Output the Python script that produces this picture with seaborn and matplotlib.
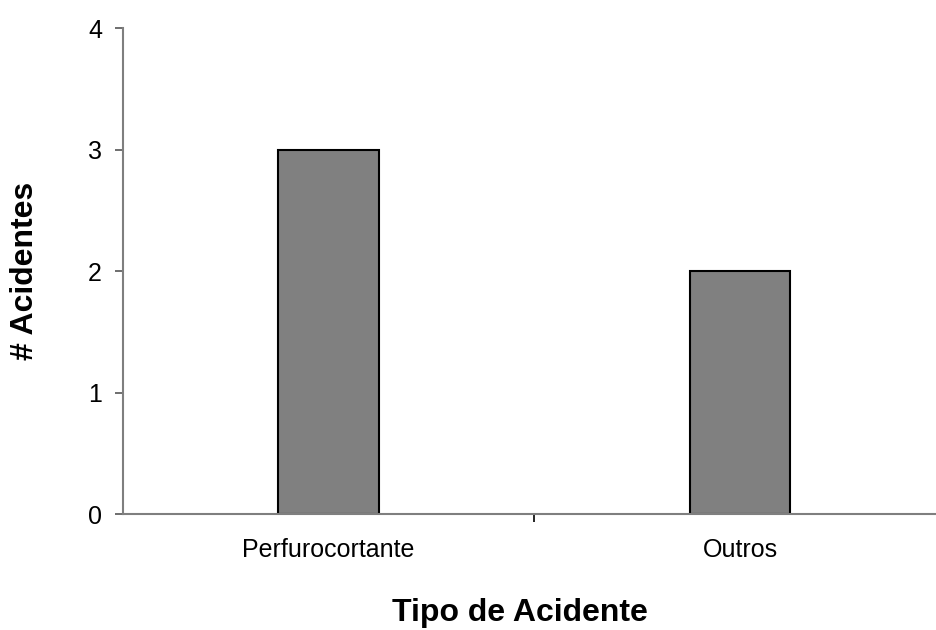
import matplotlib
matplotlib.use("Agg")
import matplotlib.pyplot as plt
import seaborn as sns
import pandas as pd

categories = ["Perfurocortante", "Outros"]
acidentes = [3, 2]
y_ticks = [0, 1, 2, 3, 4]

df = pd.DataFrame({"tipo": categories, "n": acidentes})

sns.set_style("white")
plt.rcParams["font.family"] = ["Liberation Sans", "DejaVu Sans"]
plt.rcParams["text.color"] = "black"
plt.rcParams["axes.labelcolor"] = "black"
plt.rcParams["xtick.color"] = "black"
plt.rcParams["ytick.color"] = "black"

fig = plt.figure(figsize=(9.37, 6.3), dpi=100)
ax = fig.add_axes([0.131, 0.1841, 0.8783, 0.7714])

sns.barplot(data=df, x="tipo", y="n", ax=ax, color="#808080",
            edgecolor="black", linewidth=1.5, width=0.245, saturation=1)

ax.set_xlim(-0.5, 1.5)
ax.set_ylim(0, 4)
ax.set_yticks(y_ticks)

for s in ["top", "right"]:
    ax.spines[s].set_visible(False)
for s in ["left", "bottom"]:
    ax.spines[s].set_color("#7f7f7f")
    ax.spines[s].set_linewidth(1.5)

ax.tick_params(axis="y", direction="out", length=6, width=1.2, color="#555555",
               labelsize=18, labelcolor="black", pad=9, left=True)
ax.tick_params(axis="x", which="major", length=0, labelsize=18,
               labelcolor="black", pad=17)
ax.set_xticks([0.5], minor=True)
ax.tick_params(axis="x", which="minor", direction="out", length=5.5, width=1.2,
               color="black", bottom=True)

ax.set_xlabel("Tipo de Acidente", fontsize=23, fontweight="bold", color="black")
ax.set_ylabel("# Acidentes", fontsize=23, fontweight="bold", color="black")
ax.xaxis.set_label_coords(0.483, -0.172, transform=ax.transAxes)
ax.yaxis.set_label_coords(-0.1006, 0.5, transform=ax.transAxes)

fig.savefig("out.png", dpi=100)
